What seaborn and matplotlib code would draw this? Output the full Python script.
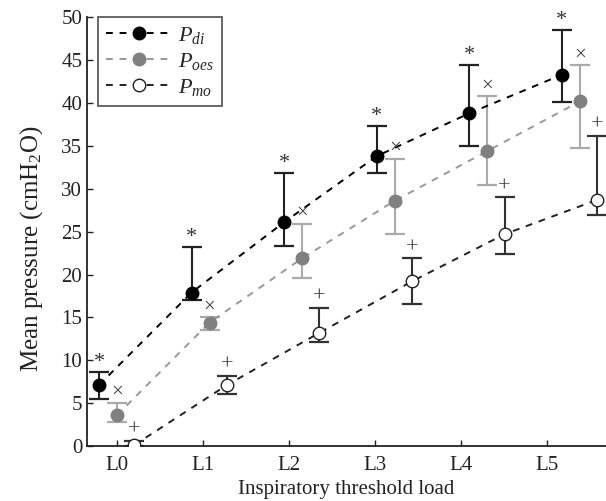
import numpy as np
import pandas as pd
import matplotlib
matplotlib.use("Agg")
import matplotlib.pyplot as plt
import seaborn as sns

loads = ["L0", "L1", "L2", "L3", "L4", "L5"]

pdi_mean = [7.1, 17.9, 26.1, 33.8, 38.8, 43.3]
pdi_upper = [8.6, 23.2, 31.8, 37.3, 44.4, 48.5]
pdi_lower = [5.5, 17.0, 23.3, 31.8, 35.0, 40.1]

poes_mean = [3.6, 14.4, 21.9, 28.6, 34.4, 40.2]
poes_upper = [5.0, 15.0, 25.9, 33.5, 40.8, 44.4]
poes_lower = [2.8, 13.5, 19.6, 24.7, 30.4, 34.8]

pmo_mean = [0.1, 7.1, 13.2, 19.2, 24.7, 28.7]
pmo_upper = [0.6, 8.2, 16.1, 21.9, 29.0, 36.2]
pmo_lower = [0.0, 6.1, 12.1, 16.6, 22.4, 26.9]

sns.set_style("ticks")
plt.rcParams["font.family"] = ["Liberation Serif", "DejaVu Serif"]
plt.rcParams["mathtext.fontset"] = "custom"
plt.rcParams["mathtext.rm"] = "Liberation Serif"
plt.rcParams["mathtext.it"] = "Liberation Serif:italic"
plt.rcParams["xtick.direction"] = "in"
plt.rcParams["ytick.direction"] = "in"

fig = plt.figure(figsize=(6.06, 5.01), dpi=100)
ax = fig.add_axes([0.1436, 0.1098, 0.8564, 0.8557])

spacing = 1.0765
idx = np.arange(len(loads))

series = [
    ("$P_{di}$", pdi_mean, pdi_lower, pdi_upper, -0.21, "black", "black", "black", "#222222", "*"),
    ("$P_{oes}$", poes_mean, poes_lower, poes_upper, 0.0, "#999999", "#808080", "#808080", "#aaaaaa", "\u00d7"),
    ("$P_{mo}$", pmo_mean, pmo_lower, pmo_upper, 0.2, "#222222", "white", "#222222", "#333333", "+"),
]

handles = []
for label, mean, lo, up, off, lc, mfc, mec, ec, sym in series:
    x = idx * spacing + off
    mean = np.array(mean)
    lo = np.array(lo)
    up = np.array(up)
    ax.errorbar(x, mean, yerr=[mean - lo, up - mean], fmt="none",
                ecolor=ec, elinewidth=1.5, capsize=7.5, capthick=1.6, zorder=2)
    df = pd.DataFrame({"x": x, "y": mean})
    sns.lineplot(data=df, x="x", y="y", ax=ax, color=lc, linestyle=(0, (3.5, 3.5)),
                 linewidth=1.4, marker="o", markersize=9, markerfacecolor=mfc,
                 markeredgecolor=mec, markeredgewidth=1.0, zorder=3)
    handles.append(ax.lines[-1])
    for xi, ui in zip(x, up):
        if sym == "*":
            ax.annotate(sym, (xi, ui), xytext=(0, 7), textcoords="offset points",
                        ha="center", va="center", fontsize=16, color="#333333",
                        family="Liberation Serif")
        else:
            ax.annotate(sym, (xi, ui), xytext=(0, 7.5), textcoords="offset points",
                        ha="center", va="center", fontsize=16 if sym == "+" else 15,
                        color="#444444", family="Liberation Serif")

ax.set_xlim(-0.349, 5.686)
ax.set_ylim(0, 50)
ax.set_xticks(idx)
ax.set_xticklabels(loads)
ax.set_yticks(np.arange(0, 51, 5))
ax.tick_params(axis="both", labelsize=15, length=4, width=1, color="#222222", labelcolor="#222222")
ax.tick_params(axis="x", pad=7)
for s in ["top", "right"]:
    ax.spines[s].set_visible(False)
for s in ["left", "bottom"]:
    ax.spines[s].set_linewidth(1.3)
    ax.spines[s].set_color("#222222")

ax.set_xlabel("Inspiratory threshold load", fontsize=15, color="#222222", labelpad=4)
ax.set_ylabel("Mean pressure (cmH$_2$O)", fontsize=18, color="#222222")
ax.yaxis.set_label_coords(-0.081, 0.46)

leg = ax.legend(handles, [s[0] for s in series], loc="upper left",
                bbox_to_anchor=(0.021, 1.0), fontsize=16, frameon=True, fancybox=False,
                edgecolor="#222222", handlelength=3.0, labelspacing=0.22,
                borderaxespad=0.0, handletextpad=0.25, borderpad=0.35)
leg.get_frame().set_linewidth(1.2)

fig.savefig("out.png", dpi=100)
